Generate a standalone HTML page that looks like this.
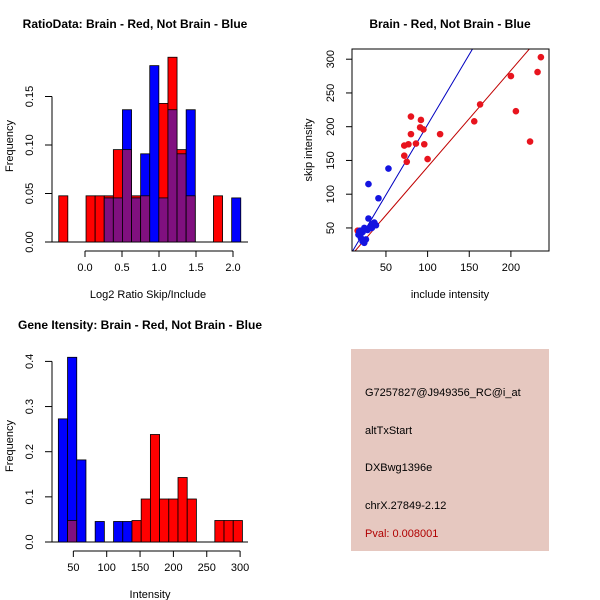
<!DOCTYPE html>
<html><head><meta charset="utf-8"><style>
body{margin:0;background:#fff}
svg{font-family:"Liberation Sans",sans-serif;display:block}
</style></head><body>
<svg id="c" width="600" height="600" xmlns="http://www.w3.org/2000/svg">
<rect width="600" height="600" fill="#fff"/>
<text x="135" y="28" font-size="12" font-weight="bold" text-anchor="middle">RatioData: Brain - Red, Not Brain - Blue</text>
<text x="450" y="28" font-size="12" font-weight="bold" text-anchor="middle">Brain - Red, Not Brain - Blue</text>
<text x="140" y="329" font-size="12" font-weight="bold" text-anchor="middle">Gene Itensity: Brain - Red, Not Brain - Blue</text>
<text x="148" y="298" font-size="11" text-anchor="middle">Log2 Ratio Skip/Include</text>
<text transform="translate(13,146) rotate(-90)" font-size="11" text-anchor="middle">Frequency</text>
<text x="450" y="298" font-size="11" text-anchor="middle">include intensity</text>
<text transform="translate(312,150) rotate(-90)" font-size="11" text-anchor="middle">skip intensity</text>
<text x="150" y="598" font-size="11" text-anchor="middle">Intensity</text>
<text transform="translate(13,446) rotate(-90)" font-size="11" text-anchor="middle">Frequency</text>
<g>
<rect x="351" y="349" width="198" height="202" fill="#e6c8c0"/>
<text x="365" y="396" font-size="11">G7257827@J949356_RC@i_at</text>
<text x="365" y="434" font-size="11">altTxStart</text>
<text x="365" y="471" font-size="11">DXBwg1396e</text>
<text x="365" y="509" font-size="11">chrX.27849-2.12</text>
<text x="365" y="537" font-size="11" fill="#b00000">Pval: 0.008001</text>
</g>
</svg>
<script>
// Ratio histogram data
const ratioBinStart = -0.355, ratioBinWidth = 0.123;
const ratioRedCounts  = [1,0,0,1,1,1,2,2,1,1,0,3,4,2,1,0,0,1,0,0];
const ratioBlueCounts = [0,0,0,0,0,1,1,3,1,2,4,1,3,2,3,0,0,0,0,1];
const ratioXTicks = [0,0.5,1,1.5,2];
const ratioXTickLabels = ["0.0","0.5","1.0","1.5","2.0"];
const ratioYTicks = [0,0.05,0.1,0.15];
const ratioYTickLabels = ["0.00","0.05","0.10","0.15"];
// Intensity histogram data
const intBinStart = 27.5, intBinWidth = 13.8;
const intRedCounts  = [0,1,0,0,0,0,0,0,1,2,5,2,2,3,2,0,0,1,1,1];
const intBlueCounts = [6,9,4,0,1,0,1,1,0,0,0,0,0,0,0,0,0,0,0,0];
const intXTicks = [50,100,150,200,250,300];
const intYTicks = [0,0.1,0.2,0.3,0.4];
const intYTickLabels = ["0.0","0.1","0.2","0.3","0.4"];
// Scatter data
const redInclude = [80,92,91,95,115,80,72,77,86,96,72,75,100,156,163,200,206,223,232,236,16];
const redSkip    = [215,210,199,196,189,189,172,174,175,174,157,148,152,208,233,275,223,178,281,303,46];
const blueInclude = [53,29,41,29,36,38,18,20,17,22,25,24,28,30,32,34,33,22,24,20,26,19];
const blueSkip    = [138,115,94,64,58,54,45,42,40,44,48,50,47,50,52,56,50,30,28,35,33,46];
const blueFit = [-5,2.08], redFit = [-2.6,1.43];
const scXTicks=[50,100,150,200], scYTicks=[50,100,150,200,250,300];

const svg=document.getElementById('c');
const NS="http://www.w3.org/2000/svg";
function mk(tag,attrs,parent){const e=document.createElementNS(NS,tag);for(const k in attrs)e.setAttribute(k,attrs[k]);(parent||svg).appendChild(e);return e;}

function hist(cfg){
  const g=mk('g',{});
  
  
  const sx=v=>cfg.x0+v*cfg.kx, sy=v=>cfg.y0-v*cfg.ky;
  const nR=cfg.red.reduce((a,b)=>a+b,0), nB=cfg.blue.reduce((a,b)=>a+b,0);
  mk('line',{x1:52,x2:248,y1:cfg.y0,y2:cfg.y0,stroke:'#000'},g);
  for(let i=0;i<cfg.red.length;i++){
    const l=sx(cfg.start+i*cfg.w), r=sx(cfg.start+(i+1)*cfg.w);
    const fr=cfg.red[i]/nR, fb=cfg.blue[i]/nB;
    const draw=(f,col,nm)=>{if(f<=0)return;const rc=mk('rect',{x:l,y:sy(f),width:r-l,height:sy(0)-sy(f),fill:col,stroke:'#000','stroke-width':0.8},g);
      
      };
    if(fr>=fb){draw(fr,'#ff0000','bar-red-'+i);draw(fb,'#80107f','bar-overlap-'+i);}
    else{draw(fb,'#0000ff','bar-blue-'+i);draw(fr,'#80107f','bar-overlap-'+i);}
  }
  const yt=cfg.yTicks;
  mk('line',{x1:52,x2:52,y1:sy(yt[0]),y2:sy(yt[yt.length-1]),stroke:'#000'},g);
  yt.forEach((v,i)=>{mk('line',{x1:45,x2:52,y1:sy(v),y2:sy(v),stroke:'#000'},g);
    const t=mk('text',{transform:`translate(33,${sy(v)}) rotate(-90)`,'font-size':11,'text-anchor':'middle'},g);t.textContent=cfg.yLabels[i];});
  const xt=cfg.xTicks, ay=cfg.y0+9;
  mk('line',{x1:sx(xt[0]),x2:sx(xt[xt.length-1]),y1:ay,y2:ay,stroke:'#000'},g);
  xt.forEach((v,i)=>{mk('line',{x1:sx(v),x2:sx(v),y1:ay,y2:ay+6,stroke:'#000'},g);
    const t=mk('text',{x:sx(v),y:ay+20,'font-size':11,'text-anchor':'middle'},g);t.textContent=cfg.xLabels[i];});
}
hist({name:'ratio-histogram',x0:85,kx:74,y0:242,ky:970,start:ratioBinStart,w:ratioBinWidth,red:ratioRedCounts,blue:ratioBlueCounts,
  xTicks:ratioXTicks,xLabels:ratioXTickLabels,yTicks:ratioYTicks,yLabels:ratioYTickLabels});
hist({name:'intensity-histogram',x0:40,kx:0.667,y0:542,ky:451.5,start:intBinStart,w:intBinWidth,red:intRedCounts,blue:intBlueCounts,
  xTicks:intXTicks,xLabels:intXTicks.map(String),yTicks:intYTicks,yLabels:intYTickLabels});

(function(){
  const g=mk('g',{});
  
  
  const L=352,R=549,T=49,B=251;
  const sx=v=>344.3+v*0.833, sy=v=>261.7-v*0.675;
  const clip=mk('clipPath',{id:'sc'},g);mk('rect',{x:L,y:T,width:R-L,height:B-T},clip);
  const cg=mk('g',{'clip-path':'url(#sc)'},g);
  [[blueFit,'#0000c0','fit-line-blue'],[redFit,'#c00000','fit-line-red']].forEach(([f,c,n])=>{
    const l=mk('line',{x1:sx(0),y1:sy(f[0]),x2:sx(300),y2:sy(f[0]+f[1]*300),stroke:c,'stroke-width':1},cg);
    
    });
  redInclude.forEach((v,i)=>{const p=mk('circle',{cx:sx(v),cy:sy(redSkip[i]),r:3.3,fill:'#e8141e'},cg);
    
    });
  blueInclude.forEach((v,i)=>{const p=mk('circle',{cx:sx(v),cy:sy(blueSkip[i]),r:3.3,fill:'#1414e0'},cg);
    
    });
  mk('rect',{x:L,y:T,width:R-L,height:B-T,fill:'none',stroke:'#000'},g);
  scXTicks.forEach(v=>{mk('line',{x1:sx(v),x2:sx(v),y1:B,y2:B+6,stroke:'#000'},g);
    const t=mk('text',{x:sx(v),y:B+20,'font-size':11,'text-anchor':'middle'},g);t.textContent=v;});
  scYTicks.forEach(v=>{mk('line',{x1:L-6,x2:L,y1:sy(v),y2:sy(v),stroke:'#000'},g);
    const t=mk('text',{transform:`translate(${L-18},${sy(v)}) rotate(-90)`,'font-size':11,'text-anchor':'middle'},g);t.textContent=v;});
})();
</script>
</body></html>
